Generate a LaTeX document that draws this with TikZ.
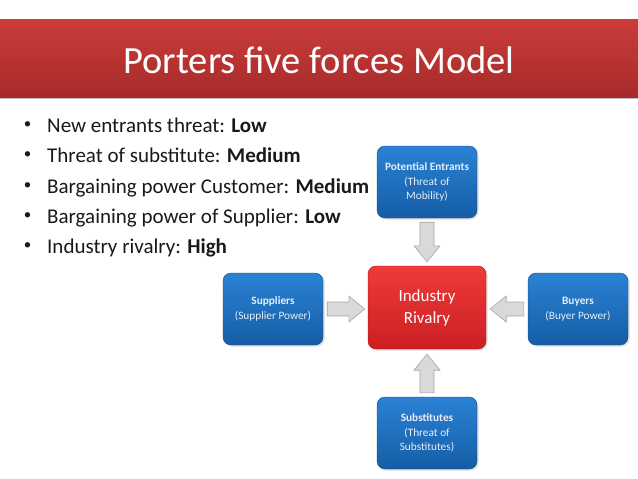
\documentclass[tikz,border=0pt]{standalone}
\usepackage{fontspec}
\setmainfont{Carlito}
\usetikzlibrary{calc,shadows}
\definecolor{titletop}{HTML}{CB3D3B}
\definecolor{titlebot}{HTML}{A62A2A}
\definecolor{bluetop}{HTML}{2B82D4}
\definecolor{bluebot}{HTML}{155DA6}
\definecolor{redtop}{HTML}{EE3A3A}
\definecolor{redbot}{HTML}{CC1F22}
\definecolor{boxtext}{HTML}{E6EEFA}
\definecolor{arrfill}{HTML}{D9D9D9}
\definecolor{arrdraw}{HTML}{A6A6A6}
\newcommand\blockarrow[2]{%
  \draw[blockarr] let \p1=(#1), \p2=(#2),
    \n1={atan2(\y2-\y1,\x2-\x1)}, \n2={veclen(\x2-\x1,\y2-\y1)} in
    [shift={(\p1)}, rotate=\n1]
    (0,-7) -- ({\n2-16},-7) -- ({\n2-16},-13) -- ({\n2},0) -- ({\n2-16},13) -- ({\n2-16},7) -- (0,7) -- cycle;}
\tikzset{
  forcebox/.style={rounded corners=8pt, minimum width=100pt, minimum height=72pt,
    top color=bluetop, bottom color=bluebot, draw=bluebot!80!black, line width=0.4pt,
    text=boxtext, align=center, font=\fontsize{11.3}{14.5}\selectfont,
    drop shadow={opacity=0.25, shadow xshift=1.5pt, shadow yshift=-1.5pt}},
  rivalbox/.style={rounded corners=8pt, minimum width=118pt, minimum height=83pt,
    top color=redtop, bottom color=redbot, draw=redbot!80!black, line width=0.4pt,
    text=white, align=center, font=\fontsize{17}{22}\selectfont,
    drop shadow={opacity=0.25, shadow xshift=1.5pt, shadow yshift=-1.5pt}},
  blockarr/.style={fill=arrfill, draw=arrdraw, line width=0.6pt, line join=miter},
  bullettext/.style={anchor=base west, inner sep=0pt, font=\fontsize{21}{25}\selectfont, text=black!90},
  bulletdot/.style={anchor=center, inner sep=0pt, font=\fontsize{15}{18}\selectfont, text=black!90}
}
\begin{document}
\begin{tikzpicture}[x=1pt,y=-1pt]
\useasboundingbox (0,0) rectangle (638,479);
\fill[white] (0,0) rectangle (638,479);
% title bar
\fill[top color=titletop, bottom color=titlebot] (0,19) rectangle (638,98);
\draw[black!25, line width=0.8pt] (0,98.5) -- (638,98.5);
\node[text=white, font=\fontsize{38.5}{44}\selectfont, inner sep=0pt] (title) at (319,60) {Porters five forces Model};
% bullets
\foreach \i/\t [count=\k] in {132/{New entrants threat: \textbf{Low}},
  162/{Threat of substitute: \textbf{Medium}},
  193/{Bargaining power Customer: \textbf{Medium}},
  223/{Bargaining power of Supplier: \textbf{Low}},
  253/{Industry rivalry: \textbf{High}}}{
  \node[bullettext] (b\k) at (47,\i) {\t};
  \node[bulletdot] (d\k) at (27.5,\i-6.5) {\textbullet};
}
% boxes
\node[forcebox] (pe) at (427,182) {\textbf{Potential Entrants}\\(Threat of\\Mobility)};
\node[forcebox] (sup) at (273,309) {\textbf{Suppliers}\\(Supplier Power)};
\node[rivalbox] (ir) at (427,307.5) {Industry\\Rivalry};
\node[forcebox] (buy) at (578,309) {\textbf{Buyers}\\(Buyer Power)};
\node[forcebox] (sub) at (427,433) {\textbf{Substitutes}\\(Threat of\\Substitutes)};
% arrows
\coordinate (a1s) at ($(pe.south)+(0,4)$);
\coordinate (a1e) at ($(ir.north)+(0,-4)$);
\coordinate (a2s) at ($(sup.east)+(4,0)$);
\coordinate (a2e) at ($(ir.west |- sup.east)+(-3,0)$);
\coordinate (a3s) at ($(buy.west)+(-4,0)$);
\coordinate (a3e) at ($(ir.east |- buy.west)+(4,0)$);
\coordinate (a4s) at ($(sub.north)+(0,-4)$);
\coordinate (a4e) at ($(ir.south)+(0,5)$);
\blockarrow{a1s}{a1e}
\blockarrow{a2s}{a2e}
\blockarrow{a3s}{a3e}
\blockarrow{a4s}{a4e}
\end{tikzpicture}
\end{document}
